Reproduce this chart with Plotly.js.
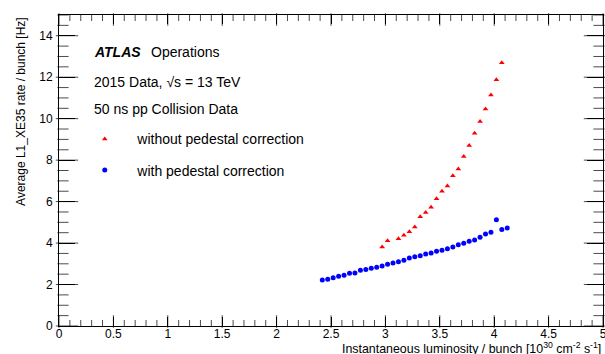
<!DOCTYPE html>
<html>
<head>
<meta charset="utf-8">
<script src="https://cdn.plot.ly/plotly-3.0.1.min.js"></script>
<style>html,body{margin:0;padding:0;background:#fff;}#chart{width:605px;height:354px;}</style>
</head>
<body>
<div id="chart"></div>
<script>
// Luminosity per bunch [10^30 cm^-2 s^-1]
const lumiNoPed = [2.97, 3.02, 3.12, 3.17, 3.22, 3.27, 3.32, 3.37, 3.42, 3.47, 3.52, 3.57, 3.62, 3.67, 3.72, 3.77, 3.82, 3.87, 3.92, 3.97, 4.02, 4.07];
const rateNoPed = [3.81, 4.11, 4.21, 4.38, 4.55, 4.77, 5.27, 5.47, 5.73, 6.14, 6.50, 6.75, 7.25, 7.57, 8.17, 8.70, 9.30, 9.86, 10.47, 11.14, 11.88, 12.70];

const lumiPed = [2.42, 2.47, 2.52, 2.57, 2.62, 2.67, 2.72, 2.77, 2.82, 2.87, 2.92, 2.97, 3.02, 3.07, 3.12, 3.17, 3.22, 3.27, 3.32, 3.37, 3.42, 3.47, 3.52, 3.57, 3.62, 3.67, 3.72, 3.77, 3.82, 3.87, 3.92, 3.97, 4.02, 4.07, 4.12];
const ratePed = [2.22, 2.25, 2.33, 2.40, 2.45, 2.54, 2.56, 2.69, 2.72, 2.78, 2.83, 2.89, 2.98, 3.04, 3.10, 3.17, 3.28, 3.34, 3.39, 3.47, 3.52, 3.60, 3.65, 3.73, 3.81, 3.92, 3.99, 4.09, 4.15, 4.28, 4.44, 4.52, 5.13, 4.65, 4.73];

const seriesNames = ["without pedestal correction", "with pedestal correction"];
const infoLines = ["2015 Data, \u221As = 13 TeV", "50 ns pp Collision Data"];
const xTitle = "Instantaneous luminosity / bunch [10<sup>30</sup> cm<sup>-2</sup> s<sup>-1</sup>]";
const yTitle = "Average L1_XE35 rate / bunch [Hz]";

const FONT = "'Liberation Sans', Arial, Helvetica, sans-serif";

const W = 605, H = 354;
const M = {l: 59, r: 2, t: 15, b: 28};
const xRange = [0, 5], yRange = [0, 15];
const xMajor = 0.5, xMinor = 0.1, yMajor = 2, yMinor = 0.5;
const tickLen = {xMajor: 9, xMinor: 5, yMajor: 16, yMinor: 8}; // px

// Tick marks (inside, mirrored on all four sides, ROOT style), drawn as line markers
const pxPerX = (W - M.l - M.r) / (xRange[1] - xRange[0]);
const pxPerY = (H - M.t - M.b) / (yRange[1] - yRange[0]);
function isMajor(v, step) { return Math.abs(v / step - Math.round(v / step)) < 1e-6; }
const vtX = [], vtY = [], vtS = [], htX = [], htY = [], htS = [];
const nx = Math.round((xRange[1] - xRange[0]) / xMinor);
for (let i = 0; i <= nx; i++) {
  const v = +(xRange[0] + i * xMinor).toFixed(6);
  const len = isMajor(v, xMajor) ? tickLen.xMajor : tickLen.xMinor;
  const h = (len / 2) / pxPerY;
  vtX.push(v, v); vtY.push(yRange[0] + h, yRange[1] - h); vtS.push(len, len);
}
const ny = Math.round((yRange[1] - yRange[0]) / yMinor);
for (let i = 0; i <= ny; i++) {
  const v = +(yRange[0] + i * yMinor).toFixed(6);
  const len = isMajor(v, yMajor) ? tickLen.yMajor : tickLen.yMinor;
  const h = (len / 2) / pxPerX;
  htX.push(xRange[0] + h, xRange[1] - h); htY.push(v, v); htS.push(len, len);
}

const traces = [
  {x: vtX, y: vtY, type: 'scatter', mode: 'markers', showlegend: false, hoverinfo: 'skip', cliponaxis: false,
   marker: {symbol: 'line-ns', size: vtS, color: '#000000', line: {color: '#000000', width: 1}}},
  {x: htX, y: htY, type: 'scatter', mode: 'markers', showlegend: false, hoverinfo: 'skip', cliponaxis: false,
   marker: {symbol: 'line-ew', size: htS, color: '#000000', line: {color: '#000000', width: 1}}},
  {x: lumiNoPed, y: rateNoPed, type: 'scatter', mode: 'markers', name: seriesNames[0],
   marker: {symbol: 'triangle-up', size: 5, color: '#ff0000'}, legend: 'legend'},
  {x: lumiPed, y: ratePed, type: 'scatter', mode: 'markers', name: seriesNames[1],
   marker: {symbol: 'circle', size: 5, color: '#0000ff'}, legend: 'legend2'}
];

const layout = {
  width: W, height: H,
  margin: {l: M.l, r: M.r, t: M.t, b: M.b, pad: 0},
  paper_bgcolor: '#fff', plot_bgcolor: '#fff',
  font: {family: FONT, color: '#000'},
  showlegend: true,
  xaxis: {
    range: xRange, tickmode: 'linear', dtick: xMajor, tick0: 0,
    ticks: 'inside', ticklen: tickLen.xMajor, tickcolor: '#000000', tickwidth: 1,
    showline: true, linecolor: '#000000', linewidth: 1, mirror: 'ticks',
    showgrid: false, zeroline: false, ticklabeloverflow: 'allow', ticklabelstandoff: -3,
    tickfont: {family: FONT, size: 12, color: '#000'}
  },
  yaxis: {
    range: yRange, tickmode: 'linear', dtick: yMajor, tick0: 0,
    ticks: 'inside', ticklen: tickLen.yMajor, tickcolor: '#000000', tickwidth: 1,
    showline: true, linecolor: '#000000', linewidth: 1, mirror: 'ticks',
    showgrid: false, zeroline: false, ticklabelstandoff: 3,
    tickfont: {family: FONT, size: 12, color: '#000'}
  },
  legend: {x: 0.0244, xanchor: 'left', y: 0.6, yanchor: 'middle', bgcolor: 'rgba(0,0,0,0)',
    font: {family: FONT, size: 14, color: '#000'}, itemwidth: 55, itemclick: false},
  legend2: {x: 0.0244, xanchor: 'left', y: 0.5, yanchor: 'middle', bgcolor: 'rgba(0,0,0,0)',
    font: {family: FONT, size: 14, color: '#000'}, itemwidth: 55, itemclick: false},
  annotations: [
    {xref: 'paper', yref: 'paper', x: 0.0612, y: 0.881, xanchor: 'left', yanchor: 'middle', showarrow: false,
     text: '<b><i>ATLAS</i></b>', font: {family: FONT, size: 14, color: '#000'}},
    {xref: 'paper', yref: 'paper', x: 0.166, y: 0.881, xanchor: 'left', yanchor: 'middle', showarrow: false,
     text: 'Operations', font: {family: FONT, size: 14, color: '#000'}},
    {xref: 'paper', yref: 'paper', x: 0.0612, y: 0.786, xanchor: 'left', yanchor: 'middle', showarrow: false,
     text: infoLines[0], font: {family: FONT, size: 14, color: '#000'}},
    {xref: 'paper', yref: 'paper', x: 0.0612, y: 0.699, xanchor: 'left', yanchor: 'middle', showarrow: false,
     text: infoLines[1], font: {family: FONT, size: 14, color: '#000'}},
    {xref: 'paper', yref: 'paper', x: 1.0, y: -0.072, xanchor: 'right', yanchor: 'middle', showarrow: false,
     text: xTitle, font: {family: FONT, size: 12.4, color: '#000'}},
    {xref: 'paper', yref: 'paper', x: -0.071, y: 1.0, xanchor: 'center', yanchor: 'top', showarrow: false,
     textangle: -90, text: yTitle, font: {family: FONT, size: 12, color: '#000'}}
  ]
};

Plotly.newPlot('chart', traces, layout, {staticPlot: true, displayModeBar: false});
</script>
</body>
</html>
